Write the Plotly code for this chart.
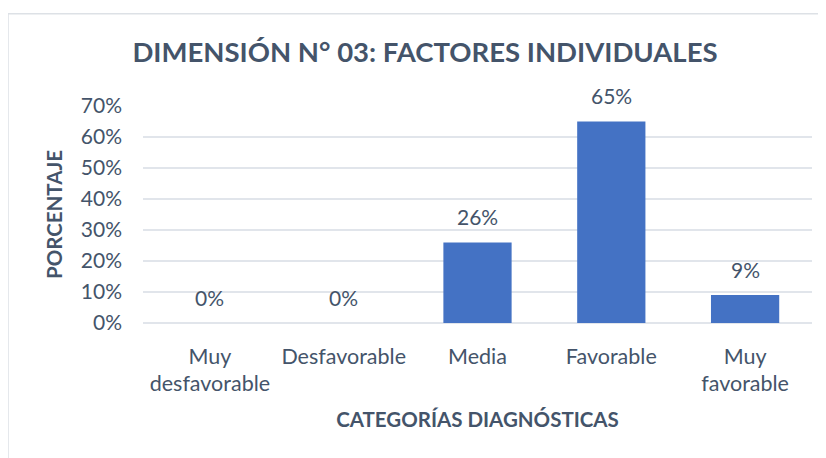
import plotly.graph_objects as go

categories = ["Muy desfavorable", "Desfavorable", "Media", "Favorable", "Muy favorable"]
tick_labels = ["Muy<br>desfavorable", "Desfavorable", "Media", "Favorable", "Muy<br>favorable"]
values = [0.0, 0.0, 0.26, 0.65, 0.09]
label_texts = ["0%", "0%", "26%", "65%", "9%"]
y_ticks = [0, 0.1, 0.2, 0.3, 0.4, 0.5, 0.6, 0.7]
y_tick_text = ["0%", "10%", "20%", "30%", "40%", "50%", "60%", "70%"]

TXT = "#44546A"
FONT = "Lato"

# page body has an 8px margin, so the figure is placed at (8, 8)
W, H = 818, 450
L, T = 135, 98
PW, PH = 669, 216.6

fig = go.Figure()
fig.add_trace(go.Bar(
    x=categories, y=values,
    marker=dict(color="#4472C4", line=dict(width=0)),
    hoverinfo="skip",
))

for c, v, t in zip(categories, values, label_texts):
    fig.add_annotation(x=c, y=v, text=t, showarrow=False, yshift=26,
                       font=dict(family=FONT, size=21, color=TXT))

fig.update_layout(
    width=W, height=H,
    margin=dict(l=L, r=W - L - PW, t=T, b=H - T - PH, autoexpand=False),
    paper_bgcolor="white", plot_bgcolor="white",
    bargap=0.49,
    showlegend=False,
    title=dict(text="<b>DIMENSIÓN N° 03: FACTORES INDIVIDUALES</b>",
               x=417/W, xanchor="center", xref="container",
               y=1-44/H, yanchor="middle", yref="container",
               font=dict(family=FONT, size=27.5, color=TXT)),
    font=dict(family=FONT, color=TXT),
)
fig.update_xaxes(
    tickmode="array", tickvals=categories, ticktext=tick_labels,
    tickfont=dict(family=FONT, size=21.5, color=TXT),
    showline=False, showgrid=False, ticks="", ticklabelstandoff=18,
    title=dict(text="<b>CATEGORÍAS DIAGNÓSTICAS</b>", standoff=17,
               font=dict(family=FONT, size=20.5, color=TXT)),
)
fig.update_yaxes(
    range=[0, 0.7], tickmode="array", tickvals=y_ticks, ticktext=y_tick_text,
    tickfont=dict(family=FONT, size=21, color=TXT),
    showgrid=True, gridcolor="#E1E5EB", gridwidth=1.5,
    zeroline=True, zerolinecolor="#E1E5EB", zerolinewidth=1.5,
    ticks="", ticklabelstandoff=20,
    title=dict(text="<b>PORCENTAJE</b>", standoff=12,
               font=dict(family=FONT, size=20.5, color=TXT)),
)

# chart-area outline
fig.add_shape(type="rect", xref="paper", yref="paper",
              x0=(0 - L) / PW, x1=(W + 10 - L) / PW,
              y0=(T + PH - (H + 10)) / PH, y1=(T + PH - 6) / PH,
              line=dict(color="#DDE1E6", width=1.5), fillcolor="rgba(0,0,0,0)",
              layer="below")

fig.write_html("out.html")
